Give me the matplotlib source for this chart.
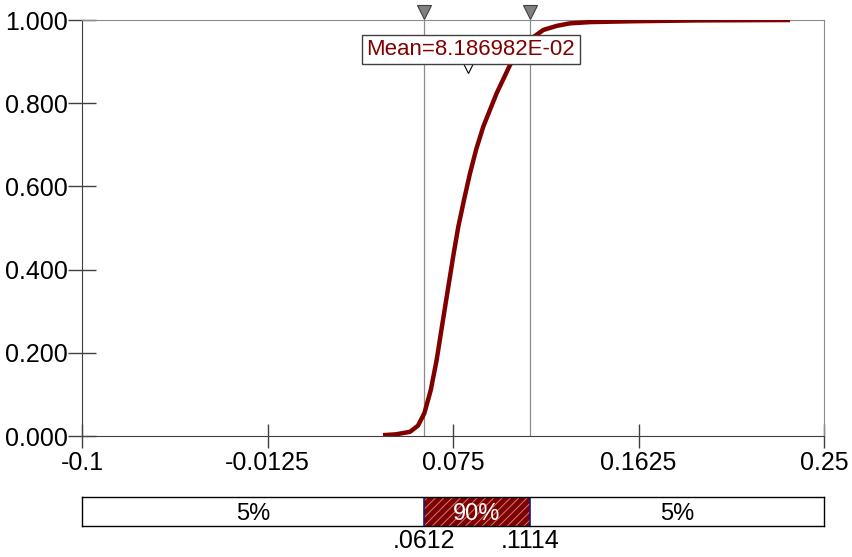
import numpy as np
import matplotlib
matplotlib.use('Agg')
from matplotlib import pyplot as plt
from matplotlib import transforms
from matplotlib.patches import Rectangle

plt.rcParams['font.family'] = ['Liberation Sans', 'DejaVu Sans']
plt.rcParams['hatch.linewidth'] = 0.7

# cumulative curve
cdf_x = [0.0420, 0.0480, 0.0547, 0.0585, 0.0615, 0.0645, 0.0673, 0.0700,
         0.0728, 0.0752, 0.0775, 0.0803, 0.0830, 0.0860, 0.0893, 0.0956,
         0.1019, 0.1070, 0.1121, 0.1176, 0.1240, 0.1302, 0.1400, 0.1600,
         0.1900, 0.2340]
cdf_y = [0.002, 0.004, 0.010, 0.025, 0.055, 0.110, 0.183, 0.270,
         0.359, 0.435, 0.503, 0.570, 0.631, 0.690, 0.744, 0.824,
         0.892, 0.930, 0.956, 0.976, 0.986, 0.992, 0.995, 0.997,
         0.999, 1.000]

mean_val = 8.186982E-02
lo_val = 0.0612
hi_val = 0.1114
x_ticks = [-0.1, -0.0125, 0.075, 0.1625, 0.25]
x_tick_labels = ['-0.1', '-0.0125', '0.075', '0.1625', '0.25']
y_ticks = [0.0, 0.2, 0.4, 0.6, 0.8, 1.0]
band_labels = ['5%', '90%', '5%']
band_edge_labels = ['.0612', '.1114']

curve_color = '#800000'
dark = '#404040'
light = '#8c8c8c'

fig = plt.figure(figsize=(8.52, 5.57), dpi=100)
ax = fig.add_axes([82 / 852, 1 - 436 / 557, 742 / 852, 416 / 557])

ax.plot(cdf_x, cdf_y, color=curve_color, lw=3.2, solid_capstyle='butt', zorder=3)

for v in (lo_val, hi_val):
    ax.axvline(v, color=light, lw=0.9, zorder=1)
    off = transforms.offset_copy(ax.transData, fig=fig, x=0, y=6, units='points')
    ax.plot([v], [1.0], marker='v', ms=10, mfc='#808080', mec=dark, mew=0.8,
            transform=off, clip_on=False, zorder=5)

ax.plot([mean_val], [0.887], marker='v', ms=8, mfc='white', mec='black',
        mew=0.8, zorder=5)
ax.text(0.0834, 0.929, 'Mean=8.186982E-02', color=curve_color, fontsize=16,
        ha='center', va='center', zorder=6,
        bbox=dict(boxstyle='square,pad=0.2', fc='white', ec=dark, lw=1))

ax.set_xlim(-0.1, 0.25)
ax.set_ylim(0, 1)
ax.set_xticks(x_ticks)
ax.set_xticklabels(x_tick_labels)
ax.set_yticks(y_ticks)
ax.set_yticklabels(['{:.3f}'.format(t) for t in y_ticks])
ax.tick_params(axis='y', direction='inout', length=20, width=1,
               color=dark, labelsize=18, pad=0)
ax.tick_params(axis='x', direction='inout', length=17, width=1,
               color=dark, labelsize=18, pad=2)
for side in ('left', 'bottom'):
    ax.spines[side].set_color(dark)
for side in ('top', 'right'):
    ax.spines[side].set_color(light)

# percentile band below
bx = fig.add_axes([82 / 852, 1 - 526 / 557, 742 / 852, 29 / 557])
bx.set_xlim(-0.1, 0.25)
bx.set_ylim(0, 1)
bx.add_patch(Rectangle((lo_val, 0), hi_val - lo_val, 1, facecolor=curve_color,
                       edgecolor='#c88080', hatch='////', lw=0))
for v in (lo_val, hi_val):
    bx.axvline(v, color='#1a1a80', lw=1.2)
bx.text((-0.1 + lo_val) / 2, 0.42, band_labels[0], ha='center', va='center', fontsize=17)
bx.text((lo_val + hi_val) / 2, 0.42, band_labels[1], ha='center', va='center',
        fontsize=17, color='white')
bx.text((hi_val + 0.25) / 2, 0.42, band_labels[2], ha='center', va='center', fontsize=17)
for v, lab in zip((lo_val, hi_val), band_edge_labels):
    bx.text(v, -0.12, lab, ha='center', va='top', fontsize=18)
bx.set_xticks([])
bx.set_yticks([])
for s in bx.spines.values():
    s.set_color('black')
    s.set_linewidth(1)

fig.savefig('out.png', dpi=100)
